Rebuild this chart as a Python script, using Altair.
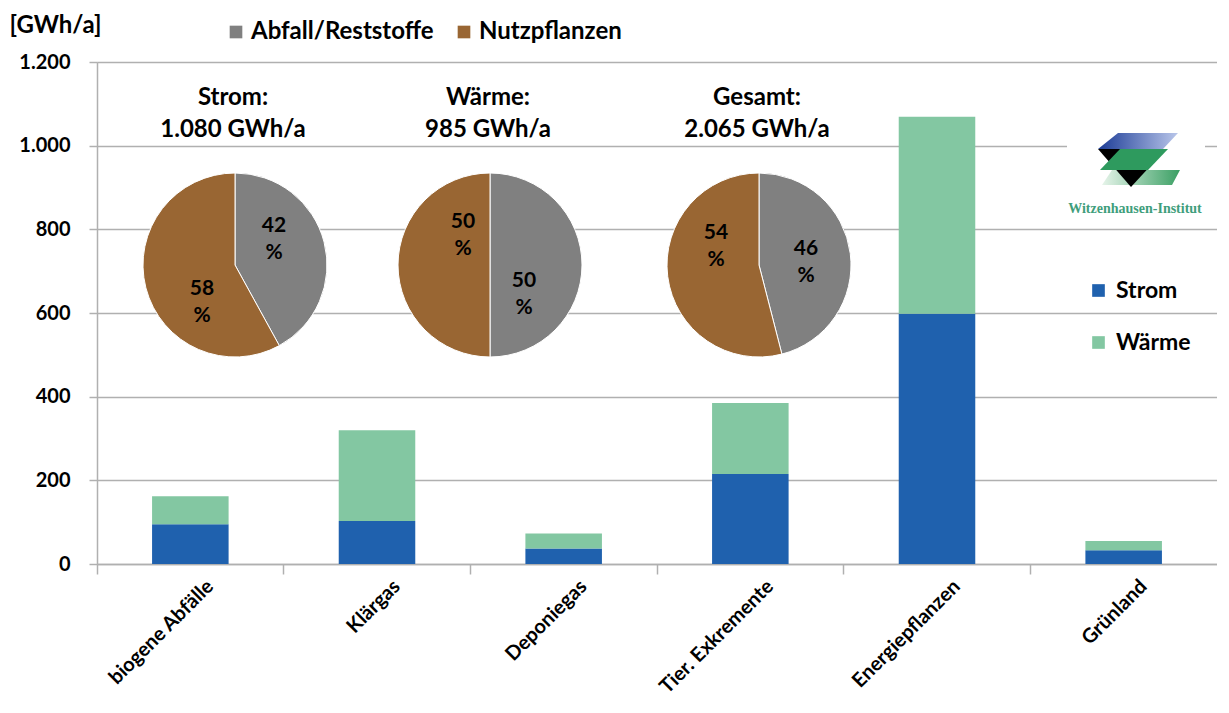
import altair as alt
import pandas as pd

# ---------------- data ----------------
categories = ["biogene Abfälle", "Klärgas", "Deponiegas", "Tier. Exkremente", "Energiepflanzen", "Grünland"]
strom = [95, 103, 37, 215, 598, 33]
waerme = [67, 217, 36, 170, 471, 22]
series = ["Strom", "Wärme"]
series_colors = ["#1F61AE", "#83C7A2"]

pie_sources = ["Abfall/Reststoffe", "Nutzpflanzen"]
pie_colors = ["#808080", "#996633"]
pie_titles = ["Strom:", "Wärme:", "Gesamt:"]
pie_totals = ["1.080 GWh/a", "985 GWh/a", "2.065 GWh/a"]
pie_strom = [42, 58]
pie_waerme = [50, 50]
pie_gesamt = [46, 54]
y_ticks = [0, 200, 400, 600, 800, 1000, 1200]

FONT = "Lato"
GRID = "#b0b0b0"
W, H = 1120, 502

bar_rows = []
for i, c in enumerate(categories):
    bar_rows.append({"cat": c, "series": series[0], "value": strom[i], "ord": 0})
    bar_rows.append({"cat": c, "series": series[1], "value": waerme[i], "ord": 1})
bars_df = pd.DataFrame(bar_rows)

bars = alt.Chart(bars_df).mark_bar(width=alt.RelativeBandSize(0.41)).encode(
    x=alt.X(
        "cat:N", sort=categories,
        scale=alt.Scale(paddingInner=0, paddingOuter=0),
        axis=alt.Axis(
            title=None, bandPosition=0, labelAngle=315, labelAlign="right",
            labelBaseline="middle", labelOffset=20, tickSize=10, labelPadding=9,
            labelFontSize=20, labelFont=FONT, labelFontWeight="bold", labelColor="black",
            labelLimit=400,
            domainColor=GRID, tickColor=GRID, domainWidth=1.5, tickWidth=1.5, grid=False,
        ),
    ),
    y=alt.Y(
        "value:Q", stack="zero", scale=alt.Scale(domain=[0, 1200], nice=False),
        axis=alt.Axis(
            values=y_ticks, format=",d", labelExpr="replace(datum.label, ',', '.')",
            title="[GWh/a]", titleAngle=0, titleX=-88, titleY=-37, titleAlign="left",
            titleBaseline="middle", titleFontSize=24, titleFont=FONT, titleFontWeight="bold",
            titleColor="black",
            labelFontSize=20, labelFont=FONT, labelFontWeight="bold", labelColor="black",
            labelPadding=19, tickSize=8, tickColor=GRID, tickWidth=1.5,
            domainColor=GRID, domainWidth=1.5, gridColor=GRID, gridWidth=1.5,
        ),
    ),
    color=alt.Color(
        "series:N", scale=alt.Scale(domain=series, range=series_colors),
        legend=alt.Legend(
            title=None, orient="none", legendX=990, legendY=217, direction="vertical",
            symbolType="square", symbolSize=160, symbolStrokeWidth=0,
            labelFontSize=23, labelFont=FONT, labelFontWeight="bold", labelColor="black",
            rowPadding=28, labelOffset=6, labelLimit=300,
        ),
    ),
    order=alt.Order("ord:Q"),
)

# pies: centres in plot coordinates (layout)
pie_centers = [(138, 203), (393, 203), (662, 203)]
pie_values = [pie_strom, pie_waerme, pie_gesamt]
# offsets of the first label line from the pie centre for (Abfall, Nutzpflanzen)
label_offsets = [[(39, -39), (-33, 24)], [(34, 16), (-27, -43)], [(47, -16), (-43, -32)]]

fill_scale = alt.Scale(domain=pie_sources, range=pie_colors)
fill_legend = alt.Legend(
    title=None, orient="none", legendX=127, legendY=-42, direction="horizontal",
    symbolType="square", symbolSize=160, symbolStrokeWidth=0,
    labelFontSize=24, labelFont=FONT, labelFontWeight="bold", labelColor="black",
    columnPadding=18, labelOffset=3, labelLimit=400,
)

layers = []
# white patch behind the logo
layers.append(
    alt.Chart(pd.DataFrame({"a": [0]})).mark_rect(color="white").encode(
        x=alt.value(970), x2=alt.value(1108), y=alt.value(58), y2=alt.value(158)
    )
)
layers.append(bars)

for k, vals in enumerate(pie_values):
    cx, cy = pie_centers[k]
    df = pd.DataFrame({"src": pie_sources, "pct": vals, "ord": [0, 1]})
    layers.append(
        alt.Chart(df).mark_arc(radius=92, stroke="white", strokeWidth=1).encode(
            theta=alt.Theta("pct:Q", stack=True, scale=alt.Scale(domain=[0, 100])),
            fill=alt.Fill("src:N", scale=fill_scale, legend=fill_legend),
            order=alt.Order("ord:Q"),
            x=alt.value(cx), y=alt.value(cy),
        )
    )
    for j in range(2):
        dx, dy = label_offsets[k][j]
        layers.append(
            alt.Chart(pd.DataFrame({"t": [f"{vals[j]}\n%"]})).mark_text(
                dx=dx, dy=dy, lineBreak="\n", lineHeight=27, font=FONT, fontSize=21,
                fontWeight="bold", color="black", baseline="middle", align="center",
            ).encode(x=alt.value(cx), y=alt.value(cy), text="t:N")
        )
    layers.append(
        alt.Chart(pd.DataFrame({"t": [f"{pie_titles[k]}\n{pie_totals[k]}"]})).mark_text(
            lineBreak="\n", lineHeight=32, font=FONT, fontSize=24, fontWeight="bold",
            color="black", baseline="middle", align="center",
        ).encode(x=alt.value(cx - 2), y=alt.value(36), text="t:N")
    )

# logo (decoration)
LX, LY = 1041, 98
blue_grad = alt.LinearGradient(
    gradient="linear", x1=0, x2=1, y1=0, y2=0,
    stops=[alt.GradientStop(color="#1c3c96", offset=0), alt.GradientStop(color="#b9c6ea", offset=1)],
)
green_grad = alt.LinearGradient(
    gradient="linear", x1=0, x2=1, y1=0, y2=0,
    stops=[alt.GradientStop(color="#e6f4ea", offset=0), alt.GradientStop(color="#3a9f63", offset=1)],
)
logo_shapes = [
    ("M -0.4 -0.54 L 0.8 -0.54 L 0.5 -0.22 L -0.8 -0.22 Z", blue_grad),
    ("M -0.52 0.2 L 0.84 0.2 L 0.68 0.5 L -0.72 0.5 Z", green_grad),
    ("M -0.8 -0.22 L 0.56 -0.22 L -0.14 0.54 Z", "#000000"),
    ("M -0.36 -0.22 L 0.6 -0.22 L 0.2 0.2 L -0.76 0.2 Z", "#2e9a5e"),
]
for path, fill in logo_shapes:
    layers.append(
        alt.Chart(pd.DataFrame({"a": [0]})).mark_point(
            shape=path, size=10000, filled=True, fill=fill, strokeWidth=0, opacity=1
        ).encode(x=alt.value(LX), y=alt.value(LY))
    )
layers.append(
    alt.Chart(pd.DataFrame({"t": ["Witzenhausen-Institut"]})).mark_text(
        font="Liberation Serif", fontSize=14, fontWeight="bold", color="#3f9e7c",
        align="center", baseline="middle",
    ).encode(x=alt.value(LX - 3), y=alt.value(147), text="t:N")
)

chart = alt.layer(*layers).properties(
    width=W, height=H,
    autosize=alt.AutoSizeParams(type="none"),
    padding={"left": 89, "top": 54, "right": 0, "bottom": 141},
).configure_view(stroke="transparent").configure(background="white")

chart.save("out.html", embed_options={"renderer": "svg", "actions": False})
